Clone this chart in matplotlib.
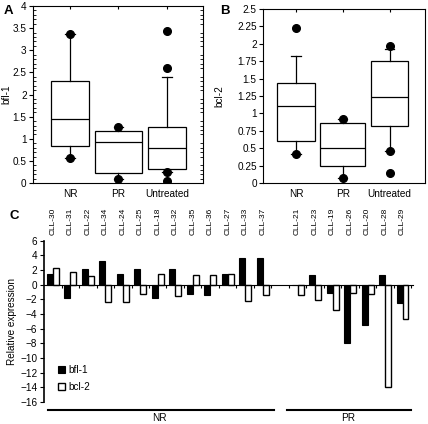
import matplotlib.pyplot as plt
import matplotlib.transforms as mtransforms
import numpy as np

plt.rcParams['font.family'] = ['Liberation Sans', 'DejaVu Sans']
plt.rcParams['axes.linewidth'] = 0.8

groups = ["NR", "PR", "Untreated"]

# panel A: bfl-1 box statistics
bfl1_whislo = [0.56, 0.10, 0.26]
bfl1_q1 = [0.84, 0.24, 0.32]
bfl1_med = [1.45, 0.92, 0.79]
bfl1_q3 = [2.30, 1.17, 1.26]
bfl1_whishi = [3.37, 1.26, 2.40]
bfl1_points = [[0.56, 3.37], [0.10, 1.26], [0.06, 0.26, 2.59, 3.44]]

# panel B: bcl-2
bcl2_whislo = [0.42, 0.07, 0.46]
bcl2_q1 = [0.61, 0.245, 0.82]
bcl2_med = [1.10, 0.50, 1.235]
bcl2_q3 = [1.43, 0.87, 1.755]
bcl2_whishi = [1.83, 0.92, 1.92]
bcl2_points = [[0.42, 2.23], [0.07, 0.92], [0.15, 0.46, 1.97]]

# panel C: relative expression per patient
nr_samples = ["CLL-30", "CLL-31", "CLL-22", "CLL-34", "CLL-24", "CLL-25", "CLL-18",
              "CLL-32", "CLL-35", "CLL-36", "CLL-27", "CLL-33", "CLL-37"]
nr_bfl1 = [1.5, -1.8, 2.1, 3.2, 1.5, 2.1, -1.8, 2.1, -1.25, -1.4, 1.5, 3.6, 3.6]
nr_bcl2 = [2.3, 1.75, 1.15, -2.4, -2.4, -1.25, 1.45, -1.6, 1.3, 1.3, 1.5, -2.2, -1.4]
pr_samples = ["CLL-21", "CLL-23", "CLL-19", "CLL-26", "CLL-20", "CLL-28", "CLL-29"]
pr_bfl1 = [0.0, 1.4, -1.15, -7.9, -5.45, 1.4, -2.5]
pr_bcl2 = [-1.4, -2.1, -3.4, -1.15, -1.3, -14.0, -4.7]

FS = 7.2


def box_stats(lo, q1, med, q3, hi, pts):
    out = []
    for i in range(len(groups)):
        out.append(dict(whislo=lo[i], q1=q1[i], med=med[i], q3=q3[i], whishi=hi[i],
                        fliers=pts[i], label=groups[i]))
    return out


def box_panel(ax, stats, widths, yticks, ylabels, ylabel, xlim, minor_step, label_x):
    ax.bxp(stats, positions=[1, 2, 3], widths=widths, capwidths=0.2, patch_artist=True,
           boxprops=dict(facecolor="white", edgecolor="black", linewidth=0.9),
           medianprops=dict(color="black", linewidth=0.9),
           whiskerprops=dict(color="black", linewidth=0.9),
           capprops=dict(color="black", linewidth=0.9),
           flierprops=dict(marker="o", markerfacecolor="black", markeredgecolor="black",
                           markersize=5.5))
    ax.set_xlim(*xlim)
    ax.set_ylim(yticks[0], yticks[-1])
    ax.set_yticks(yticks)
    ax.set_yticklabels(ylabels, fontsize=FS)
    ax.set_yticks(np.arange(yticks[0], yticks[-1] + 1e-9, minor_step), minor=True)
    ax.set_xticks([1, 2, 3])
    ax.set_xticklabels(groups, fontsize=FS)
    ax.tick_params(axis="y", which="major", direction="out", length=3, width=0.8, pad=1.5)
    ax.tick_params(axis="y", which="minor", direction="in", length=2, width=0.6,
                   right=True)
    ax.tick_params(axis="x", bottom=False, top=True, direction="in", length=2, pad=4)
    ax.set_ylabel(ylabel, fontsize=FS)
    ax.yaxis.set_label_coords(label_x, 0.5)


fig = plt.figure(figsize=(4.28, 4.24), dpi=100)

axA = fig.add_axes([0.077, 0.568, 0.397, 0.418])
box_panel(axA, box_stats(bfl1_whislo, bfl1_q1, bfl1_med, bfl1_q3, bfl1_whishi, bfl1_points),
          [0.78, 0.97, 0.78], np.arange(0, 4.01, 0.5),
          ["0", "0.5", "1", "1.5", "2", "2.5", "3", "3.5", "4"], "bfl-1", (0.237, 3.742), 0.1,
          -0.125)
fig.text(0.008, 0.975, "A", fontsize=9.5, fontweight="bold", va="center")

axB = fig.add_axes([0.6145, 0.568, 0.3785, 0.411])
box_panel(axB, box_stats(bcl2_whislo, bcl2_q1, bcl2_med, bcl2_q3, bcl2_whishi, bcl2_points),
          [0.81, 0.96, 0.79], np.arange(0, 2.51, 0.25),
          ["0", "0.25", "0.5", "0.75", "1", "1.25", "1.5", "1.75", "2", "2.25", "2.5"],
          "bcl-2", (0.294, 3.759), 0.25, -0.24)
fig.text(0.514, 0.975, "B", fontsize=9.5, fontweight="bold", va="center")

# panel C
axC = fig.add_axes([0.103, 0.052, 0.862, 0.38])
x_nr = np.arange(len(nr_samples))
x_pr = np.arange(len(pr_samples)) + len(nr_samples) + 1
xs = np.concatenate([x_nr, x_pr])
names = nr_samples + pr_samples
bfl = nr_bfl1 + pr_bfl1
bcl = nr_bcl2 + pr_bcl2
w = 0.34
axC.bar(xs - w / 2, bfl, w, color="black", edgecolor="black", linewidth=0.8, label="bfl-1")
axC.bar(xs + w / 2, bcl, w, color="white", edgecolor="black", linewidth=1.0, label="bcl-2")

axC.set_xlim(-0.5, 20.6)
axC.set_ylim(-16, 6)
axC.set_yticks(np.arange(-16, 7, 2))
axC.tick_params(axis="y", labelsize=FS, length=3, width=0.8, pad=2)
axC.spines["top"].set_visible(False)
axC.spines["right"].set_visible(False)
axC.spines["left"].set_linewidth(1.2)
axC.spines["bottom"].set_position(("data", 0))
axC.spines["bottom"].set_bounds(-0.5, 20.6)
axC.set_xticks(np.arange(0.5, 21, 1))
axC.tick_params(axis="x", direction="out", length=2, width=0.8, labelbottom=False)
axC.set_ylabel("Relative expression", fontsize=FS, labelpad=2)
for x, name in zip(xs, names):
    axC.text(x, 6.8, name, rotation=90, ha="center", va="bottom", fontsize=6)

axC.legend(loc="lower left", bbox_to_anchor=(0.02, 0.02), frameon=False, fontsize=FS,
           handlelength=0.7, handleheight=0.7, handletextpad=0.3, labelspacing=0.7,
           borderpad=0.2)

trans = mtransforms.blended_transform_factory(axC.transData, axC.transAxes)
axC.plot([-0.29, 12.63], [-0.05, -0.05], transform=trans, color="black", lw=1.5,
         clip_on=False)
axC.plot([13.37, 20.46], [-0.05, -0.05], transform=trans, color="black", lw=1.5,
         clip_on=False)
axC.text(6.1, -0.07, "NR", transform=trans, ha="center", va="top", fontsize=FS)
axC.text(16.9, -0.07, "PR", transform=trans, ha="center", va="top", fontsize=FS)
fig.text(0.022, 0.49, "C", fontsize=9.5, fontweight="bold", va="center")

plt.savefig("out.png", dpi=100)
